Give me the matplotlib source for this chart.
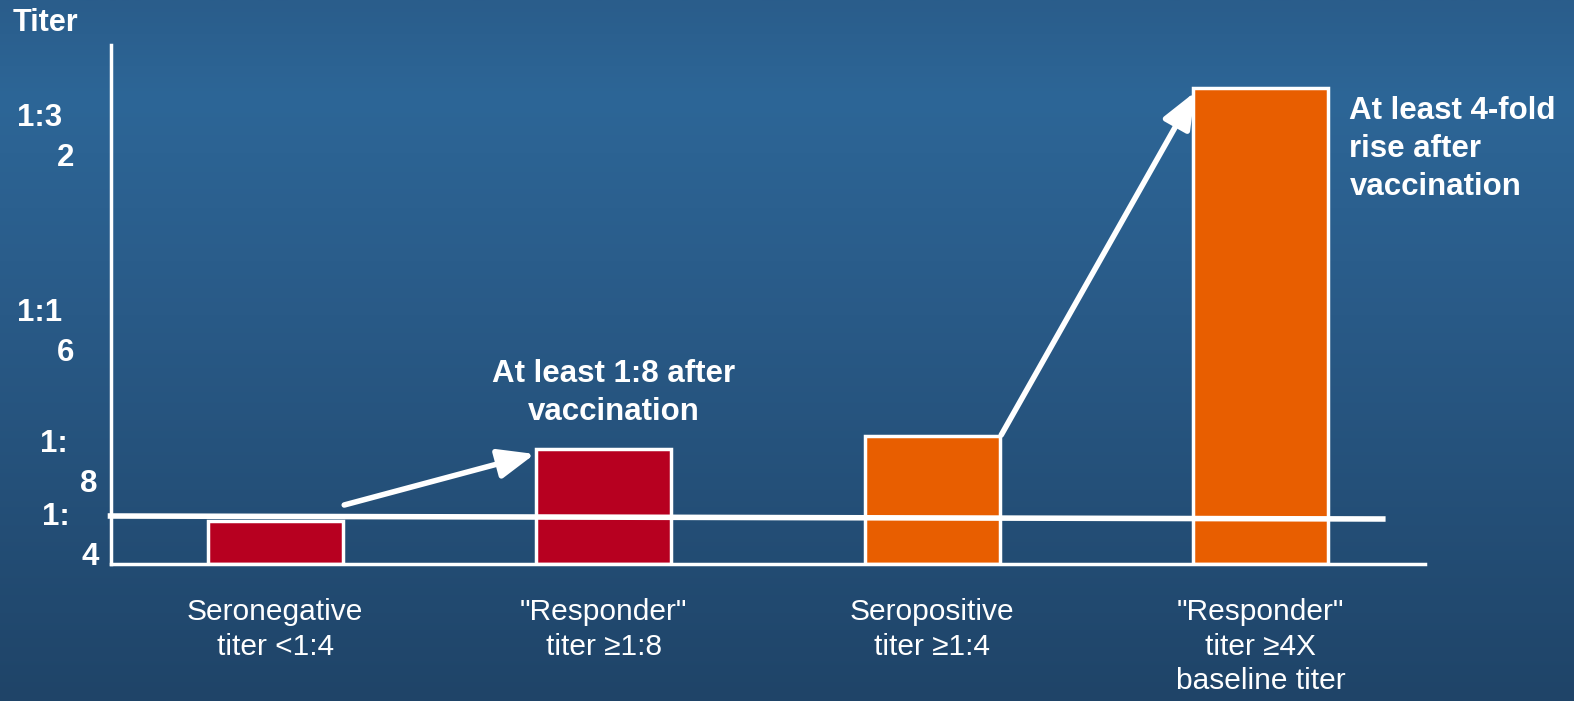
import numpy as np
import matplotlib
matplotlib.use('Agg')
import matplotlib.pyplot as plt
from matplotlib.colors import LinearSegmentedColormap
import matplotlib.transforms as mtransforms

# categories and bar heights (units = height above the x axis)
categories = ['Seronegative\ntiter <1:4', '"Responder"\ntiter \u22651:8',
              'Seropositive\ntiter \u22651:4', '"Responder"\ntiter \u22654X\nbaseline titer']
heights = [43, 115, 128, 476]
bar_colors = ['#B70020', '#B70020', '#E85E00', '#E85E00']

# y axis "tick" labels, split in two lines like the slide
ytick_values = [429, 234, 103, 30]
ytick_line1 = ['1:3', '1:1', '1:', '1:']
ytick_line2 = ['2', '6', '8', '4']

# 1:4 threshold line (slightly tilted in the original)
thresh_x = [-0.51, 3.38]
thresh_y = [48, 45]

# arrows: (start x, start y) -> (end x, end y)
arrow_from = [(0.21, 59), (2.21, 129)]
arrow_to = [(0.79, 110), (2.80, 472)]

W, H = 1574, 701
fig = plt.figure(figsize=(W / 100, H / 100), dpi=100)

# background gradient
bg = fig.add_axes([0, 0, 1, 1])
cmap = LinearSegmentedColormap.from_list('bg', [(0.0, '#2A5D8B'), (0.14, '#2D6697'),
                                                (0.45, '#295A87'), (1.0, '#1F4468')])
grad = np.linspace(0, 1, 256).reshape(-1, 1)
bg.imshow(grad, aspect='auto', cmap=cmap, extent=[0, 1, 0, 1], origin='upper')
bg.set_axis_off()

# main axes in pixel placement
x0, x1, ytop, ybot = 111, 1425, 45, 564
ax = fig.add_axes([x0 / W, (H - ybot) / H, (x1 - x0) / W, (ybot - ytop) / H])
ax.patch.set_alpha(0)
ax.set_xlim(-0.5, 3.5)
ax.set_ylim(0, ybot - ytop)

x = np.arange(len(categories))
ax.bar(x, heights, width=0.41, color=bar_colors, edgecolor='white', linewidth=2.5, zorder=2)

ax.plot(thresh_x, thresh_y, color='white', linewidth=4, clip_on=False, zorder=3,
        solid_capstyle='butt')

for (sx, sy), (ex, ey) in zip(arrow_from, arrow_to):
    ax.annotate('', xy=(ex, ey), xytext=(sx, sy),
                arrowprops=dict(arrowstyle='-|>,head_length=1.1,head_width=0.45',
                                mutation_scale=20, color='white', lw=4,
                                shrinkA=0, shrinkB=0),
                zorder=4)

for s in ['top', 'right']:
    ax.spines[s].set_visible(False)
for s in ['left', 'bottom']:
    ax.spines[s].set_color('white')
    ax.spines[s].set_linewidth(2.5)
ax.set_xticks([])
ax.set_yticks([])

font = 'Liberation Sans'
trans_px = mtransforms.blended_transform_factory(fig.dpi_scale_trans, ax.transData)

# y labels in two lines
line1_x = [17, 17, 40, 42]
line2_x = [57, 57, 80, 82]
for v, l1, l2, px1, px2 in zip(ytick_values, ytick_line1, ytick_line2, line1_x, line2_x):
    ax.text(px1 / 100, v + 17, l1, transform=trans_px, ha='left', va='center',
            fontsize=22.5, fontweight='bold', color='white', family=font, clip_on=False)
    ax.text(px2 / 100, v - 23, l2, transform=trans_px, ha='left', va='center',
            fontsize=22.5, fontweight='bold', color='white', family=font, clip_on=False)

# category labels below the axis
for xi, lab in zip(x, categories):
    ax.text(xi, -34, lab, ha='center', va='top', fontsize=21.5, color='white',
            family=font, linespacing=1.3, clip_on=False)

fig.text(13 / W, 1 - 23 / H, 'Titer', ha='left', va='center', fontsize=22,
         fontweight='bold', color='white', family=font)

ax.text(1.03, 171, 'At least 1:8 after\nvaccination', ha='center', va='center',
        fontsize=22.5, fontweight='bold', color='white', family=font, linespacing=1.35)
ax.text(3.27, 415, 'At least 4-fold\nrise after\nvaccination', ha='left', va='center',
        fontsize=22.5, fontweight='bold', color='white', family=font, linespacing=1.35,
        clip_on=False)

fig.savefig('out.png', dpi=100)
